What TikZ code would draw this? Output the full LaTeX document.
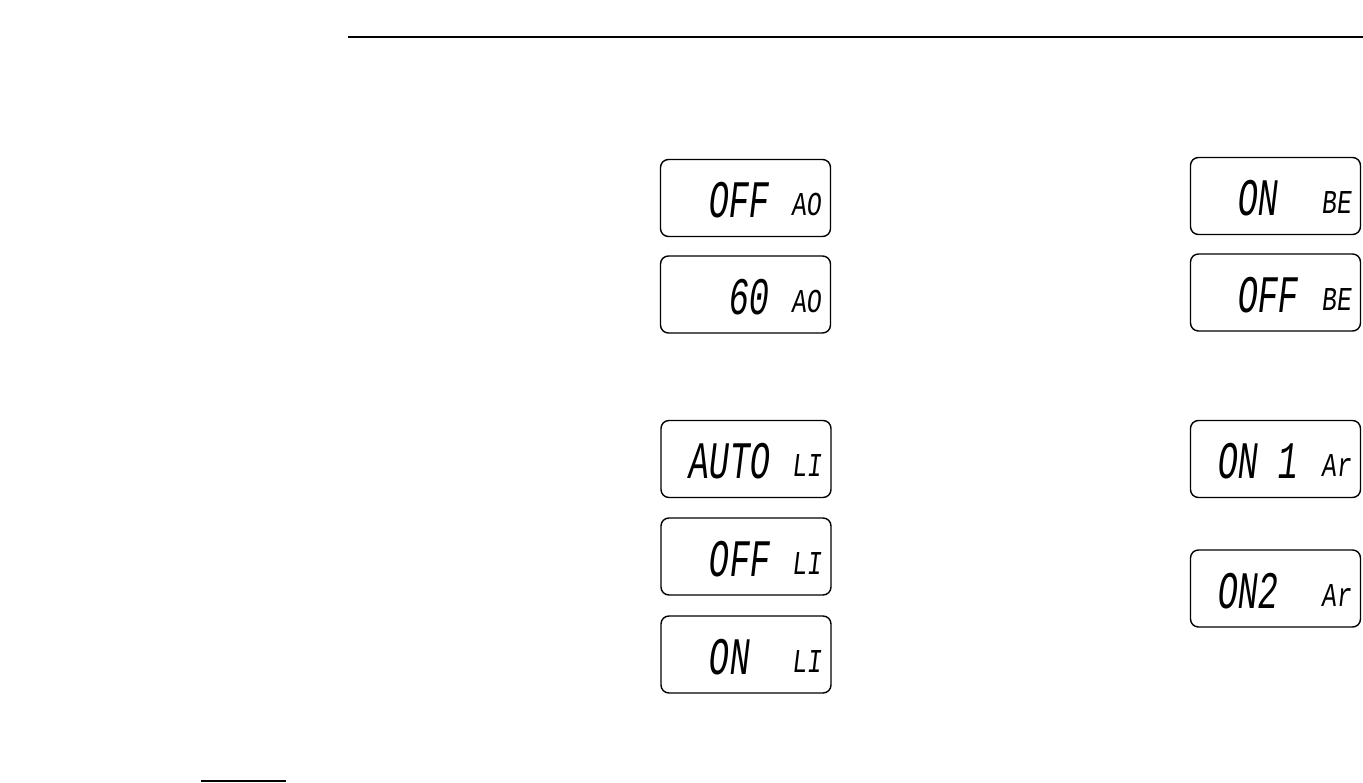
\documentclass[tikz,border=0pt]{standalone}
\usepackage{fontspec}
\usetikzlibrary{calc}
\newfontfamily\lcdfont[FakeSlant=0.12,FakeStretch=0.64]{Liberation Mono}
\newfontfamily\tagfont[FakeSlant=0.12,FakeStretch=0.74]{Liberation Mono}
\begin{document}
\begin{tikzpicture}[
		x=0.02cm, y=-0.02cm,
		regola/.style={line width=1.3pt, black},
		lcd/.style={rectangle, draw=black, rounded corners=4.5pt,
			minimum width=3.4cm, minimum height=1.54cm,
			inner sep=0pt, line width=0.8pt},
		cifre/.style={inner sep=0pt, anchor=base west,
			font=\lcdfont\fontsize{30}{30}\selectfont},
		sigla/.style={inner sep=0pt, anchor=base west,
			font=\tagfont\fontsize{19}{19}\selectfont}]
	\useasboundingbox (0,0) rectangle (1363,783);
	
	%% righe di pagina
	\coordinate (rA) at (348,37);
	\coordinate (rB) at (1363,37);
	\draw[regola] (rA) -- (rB);
	\coordinate (nA) at (201,781);
	\coordinate (nB) at (286,781);
	\draw[line width=1pt] (nA) -- (nB);
	
	%% display lcd: nome/x/y/scarto/testo/sigla
	\foreach \n/\x/\y/\dx/\txt/\lbl in {
		aoA/745.5/198/27/{\phantom{0}OFF}/AO,
		aoB/745.5/294.5/27/{\phantom{00}60}/AO,
		liA/746/459/27/AUTO/LI,
		liB/746/556.5/27/{\phantom{0}OFF}/LI,
		liC/746/654.5/27/{\phantom{0}ON}/LI,
		beA/1275.5/196/26/{\phantom{0}ON}/BE,
		beB/1275.5/292.5/26/{\phantom{0}OFF}/BE,
		arA/1275.5/459/26/{ON\phantom{0}1}/Ar,
		arB/1275.5/588.5/26/{ON2}/Ar}{
		\node[lcd] (\n) at (\x,\y) {};
		\node[cifre] (\n-txt) at ($(\n.west)+(\dx,20)$) {\txt};
		\node[sigla] (\n-lbl) at ($(\n.west)+(131,18)$) {\lbl};
	}
\end{tikzpicture}
\end{document}
